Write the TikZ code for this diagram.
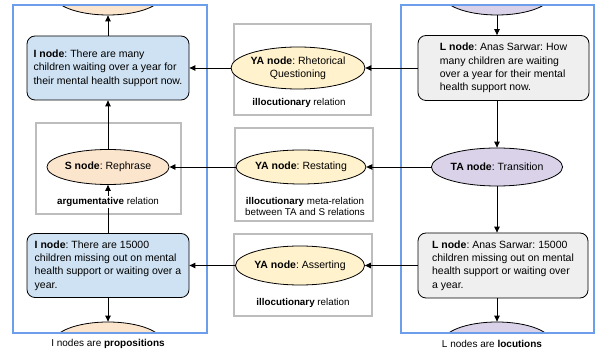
\documentclass[tikz,border=0pt]{standalone}
\usepackage{fontspec}
\setmainfont{Liberation Sans}
\usetikzlibrary{shapes.geometric,arrows.meta}
\definecolor{iblue}{HTML}{CFE2F3}
\definecolor{spink}{HTML}{FCE5CD}
\definecolor{yayel}{HTML}{FFF2CC}
\definecolor{lgray}{HTML}{EFEFEF}
\definecolor{tapur}{HTML}{D9D2E9}
\definecolor{framebl}{HTML}{6D9EEB}
\definecolor{boxgr}{HTML}{BDBDBD}
\newcommand\ndfont{\fontsize{10.5}{13.3}\selectfont}
\newcommand\lbfont{\fontsize{9.8}{10.8}\selectfont}
\frenchspacing
\begin{document}
\begin{tikzpicture}[x=1pt,y=-1pt,
  rbox/.style={draw, rounded corners=8pt, line width=0.8pt, align=left, font=\ndfont, inner ysep=0pt},
  inode/.style={rbox, fill=iblue, minimum width=162pt, minimum height=64pt},
  lnode/.style={rbox, fill=lgray, minimum width=171pt, minimum height=65pt},
  ell/.style={draw, ellipse, line width=0.8pt, inner sep=0pt, align=center, font=\ndfont},
  frm/.style={draw=framebl, line width=1.2pt},
  gbox/.style={draw=boxgr, line width=1.4pt},
  lbl/.style={font=\lbfont, align=center, fill=white, inner sep=1pt},
  captxt/.style={font=\fontsize{10}{12}\selectfont},
  arr/.style={-{Triangle[length=6pt,width=5.5pt]}, line width=0.9pt}
]
\useasboundingbox (0,0) rectangle (595,352);
\fill[white] (0,0) rectangle (595,352);

% partial ellipses clipped to frames
\begin{scope}
  \clip (13,5) rectangle (207,333);
  \node[ell, fill=spink, minimum width=110pt, minimum height=42pt] (topL) at (108,-6) {};
  \node[ell, fill=spink, minimum width=110pt, minimum height=42pt] (botL) at (108,343) {};
\end{scope}
\begin{scope}
  \clip (401,5) rectangle (594,333);
  \node[ell, fill=tapur, minimum width=110pt, minimum height=42pt] (topR) at (497,-6) {};
  \node[ell, fill=tapur, minimum width=110pt, minimum height=42pt] (botR) at (497,343) {};
\end{scope}

% frames
\draw[frm] (13,5) rectangle (207,333);
\draw[frm] (401,5) rectangle (594,333);

% gray relation boxes
\draw[gbox] (36,123) rectangle (181,214);
\draw[gbox] (234,24) rectangle (371,115);
\draw[gbox] (235,128) rectangle (373,221);
\draw[gbox] (234,234) rectangle (372,316);

% left column
\node[inode] (I1) at (108,68) {\textbf{I node}: There are many\\children waiting over a year for\\their mental health support now.};
\node[ell, fill=spink, minimum width=108pt, minimum height=35pt] (S) at (108,167) {\textbf{S node}: Rephrase};
\node[inode] (I2) at (108,265.5) {\textbf{I node}: There are 15000\\children missing out on mental\\health support or waiting over a\\year.};

% middle column
\node[ell, fill=yayel, minimum width=116pt, minimum height=42pt] (YA1) at (298,68) {\textbf{YA node}: Rhetorical\\Questioning};
\node[ell, fill=yayel, minimum width=112pt, minimum height=34pt] (YA2) at (301,167) {\textbf{YA node}: Restating};
\node[ell, fill=yayel, minimum width=104pt, minimum height=39pt] (YA3) at (300,265.5) {\textbf{YA node}: Asserting};

% right column
\node[lnode] (L1) at (503.5,68) {\textbf{L node}: Anas Sarwar: How\\many children are waiting\\over a year for their mental\\health support now.};
\node[ell, fill=tapur, minimum width=109pt, minimum height=38pt] (TA) at (497,167) {\textbf{TA node}: Transition};
\node[lnode, minimum width=170pt] (L2) at (503,265.5) {\textbf{L node}: Anas Sarwar: 15000\\children missing out on mental\\health support or waiting over\\a year.};

% vertical arrows
\draw[arr] (I1.north) -- (topL.south);
\draw[arr] (S.north) -- (I1.south);
\draw[arr] (I2.north) -- (S.south);
\draw[arr] (I2.south) -- (botL.north);
\draw[arr] (topR.south) -- (topR.south |- L1.north);
\draw[arr] (L1.south -| TA.north) -- (TA.north);
\draw[arr] (TA.south) -- (TA.south |- L2.north);
\draw[arr] (L2.south -| botR.north) -- (botR.north);

% horizontal arrows
\draw[arr] (L1.west) -- (YA1.east);
\draw[arr] (YA1.west) -- (I1.east);
\draw[arr] (TA.west) -- (YA2.east);
\draw[arr] (YA2.west) -- (S.east);
\draw[arr] (L2.west) -- (YA3.east);
\draw[arr] (YA3.west) -- (I2.east);

% relation labels
\node[lbl] (lS) at (108,202) {\textbf{argumentative} relation};
\node[lbl] (l1) at (299,103) {\textbf{illocutionary} relation};
\node[lbl] (l2) at (305,206.5) {\textbf{illocutionary} meta-relation\\between TA and S relations};
\node[lbl] (l3) at (303,303) {\textbf{illocutionary} relation};

% captions
\node[captxt] (cL) at (108,344) {I nodes are \textbf{propositions}};
\node[captxt] (cR) at (492,344) {L nodes are \textbf{locutions}};
\end{tikzpicture}
\end{document}
